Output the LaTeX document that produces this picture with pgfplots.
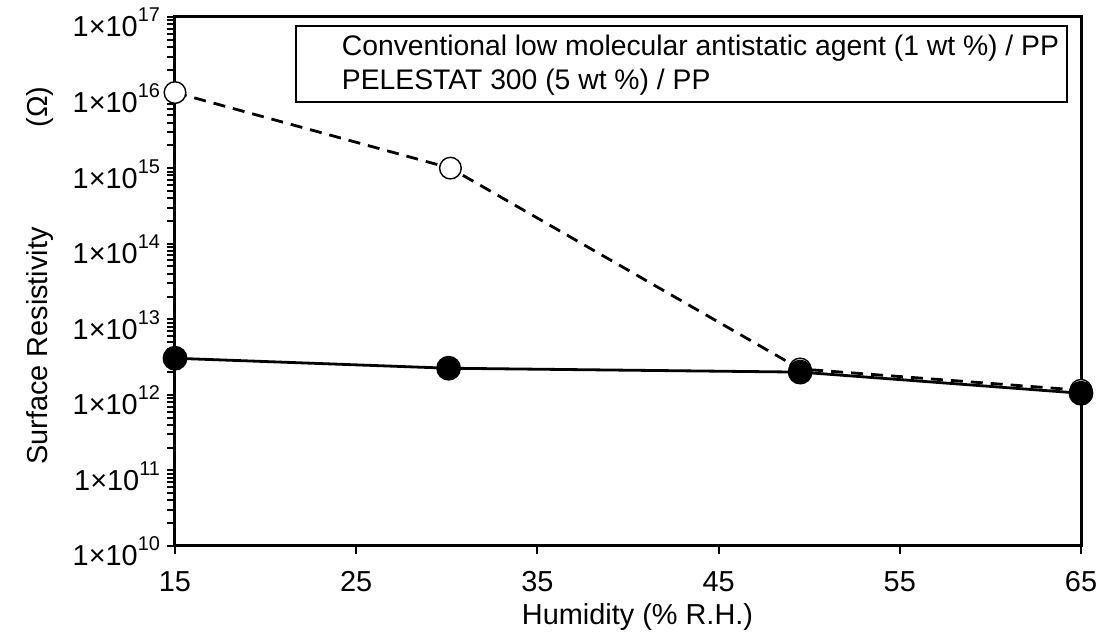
\documentclass[border=0pt]{standalone}
\usepackage{fontspec}
\setmainfont{Liberation Sans}
\usepackage{pgfplots}
\pgfplotsset{compat=1.18}
\newcommand\ex[1]{1×10\raisebox{7.5bp}{\fontsize{10}{10}\selectfont #1}}
\begin{document}
\begin{tikzpicture}
\path[use as bounding box] (-87.5bp,-44.5bp) rectangle (461.5bp,273bp);
\begin{axis}[
  scale only axis, width=453bp, height=264.5bp,
  at={(0,0)}, anchor=south west,
  clip=false,
  xmin=15, xmax=65, ymode=log, ymin=1e10, ymax=1e17,
  xtick={15,25,35,45,55,65},
  ytick={1e10,1e11,1e12,1e13,1e14,1e15,1e16,1e17},
  yticklabels={\ex{10},\ex{11},\ex{12},\ex{13},\ex{14},\ex{15},\ex{16},\ex{17}},
  minor ytick={2e10,3e10,4e10,5e10,6e10,7e10,8e10,9e10,
               2e11,3e11,4e11,5e11,6e11,7e11,8e11,9e11,
               2e12,3e12,4e12,5e12,6e12,7e12,8e12,9e12,
               2e13,3e13,4e13,5e13,6e13,7e13,8e13,9e13,
               2e14,3e14,4e14,5e14,6e14,7e14,8e14,9e14,
               2e15,3e15,4e15,5e15,6e15,7e15,8e15,9e15,
               2e16,3e16,4e16,5e16,6e16,7e16,8e16,9e16},
  tick align=outside, xtick pos=bottom, ytick pos=left,
  major tick length=4bp, minor tick length=4bp,
  every tick/.style={black, line width=1bp},
  axis line style={line width=1.5bp},
  /pgf/number format/assume math mode=true,
  xticklabel style={font=\fontsize{14.5}{14.5}\selectfont, anchor=base, yshift=-19bp},
  yticklabel style={font=\fontsize{14.5}{14.5}\selectfont, anchor=base east, yshift=-10bp},
  xlabel={Humidity (\% R.H.)},
  ylabel={Surface Resistivity\hspace{50bp}(Ω)},
  xlabel style={font=\fontsize{14.5}{14.5}\selectfont, at={(axis description cs:0.5105,-0.1493)}, anchor=base},
  ylabel style={font=\fontsize{14.5}{14.5}\selectfont, at={(axis description cs:-0.149,0.511)}, anchor=center, rotate=0},
  legend image code/.code={\path (0cm,0cm) (0.62cm,0cm);},
  legend cell align=left,
  legend style={at={(axis description cs:0.9857,0.985)}, anchor=north east,
    draw=black, line width=1bp, font=\fontsize{14.2}{14.2}\selectfont,
    inner xsep=2bp, inner ysep=2.5bp, row sep=1.5bp},
]
\addplot[black, line width=1.4bp, dash pattern=on 6bp off 4bp, mark=*, mark size=5.4bp,
  mark options={solid, fill=white, draw=black, line width=0.7bp}]
  coordinates {(15,1.0e16) (30.2,1.0e15) (49.5,2.2e12) (65,1.15e12)};
\addplot[black, line width=1.4bp, mark=*, mark size=5.5bp,
  mark options={solid, fill=black, draw=black}]
  coordinates {(15,3.05e12) (30.1,2.25e12) (49.5,2.0e12) (65,1.05e12)};
\legend{Conventional low molecular antistatic agent (1 wt \%) / PP, PELESTAT 300 (5 wt \%) / PP\rule[-4.5bp]{0pt}{0pt}}
\end{axis}
\end{tikzpicture}
\end{document}
